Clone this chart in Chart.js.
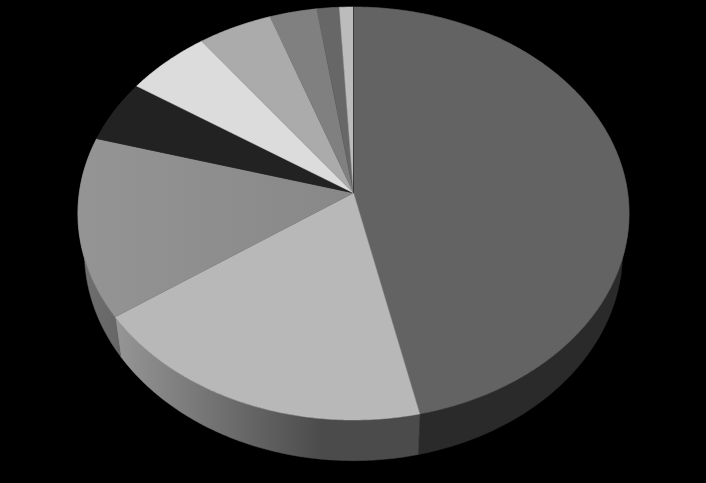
<!DOCTYPE html>
<html>
<head>
<meta charset="UTF-8">
<title>Pie</title>
<script src="https://cdn.jsdelivr.net/npm/chart.js"></script>
<style>
    html, body { margin: 0; background: #000; }
    canvas { display: block; }
</style>
</head>
<body>
<canvas id="pie" width="706" height="483"></canvas>
<script>
// values, clockwise from 12 o'clock (percent)
const categories = ['A', 'B', 'C', 'D', 'E', 'F', 'G', 'H', 'I'];
const values = [46.5, 18.8, 14.1, 4.9, 5.5, 4.8, 3.05, 1.45, 0.9];

const topColors = ['#636363', '#b8b8b8', '#8e8e8e', '#222222', '#dcdcdc', '#ababab', '#808080', '#676767', '#bcbcbc'];
// side wall gradient [left, right] for every slice
const sideColors = [['#2a2a2a', '#2a2a2a'], ['#969696', '#4b4b4b'], ['#707070', '#666666'], ['#222', '#222'],
    ['#444', '#444'], ['#444', '#444'], ['#444', '#444'], ['#444', '#444'], ['#444', '#444']];

// how the flat pie is laid on the table
const top3d = { dx: 0.5, dy: -28, sx: 1.141, sy: 0.855, apex: -0.0993 };
const bottom3d = { dx: 0.5, dy: 10.5, sx: 1.114, sy: 0.864 };

// the apex does not sit in the middle of the ellipse: perspective
function tilt(angle) {
    const u = Math.cos(angle), v = Math.sin(angle), d = top3d.apex;
    const w = 1 + d * v;
    return { X: u * Math.sqrt(1 - d * d) / w, Y: (v + d) / w };
}

function rim(arc, face) {
    const pts = [];
    const steps = Math.max(2, Math.ceil((arc.endAngle - arc.startAngle) / 0.01));
    for (let i = 0; i <= steps; i++) {
        const p = tilt(arc.startAngle + (arc.endAngle - arc.startAngle) * i / steps);
        pts.push([arc.x + face.dx + p.X * arc.outerRadius * face.sx, arc.y + face.dy + p.Y * arc.outerRadius * face.sy]);
    }
    return pts;
}

function fillPath(ctx, pts, fill) {
    ctx.beginPath();
    pts.forEach((p, i) => i ? ctx.lineTo(p[0], p[1]) : ctx.moveTo(p[0], p[1]));
    ctx.closePath();
    ctx.fillStyle = fill;
    ctx.strokeStyle = fill;
    ctx.lineWidth = 0.5;
    ctx.fill();
    ctx.stroke();
}

const pie3d = {
    id: 'pie3d',
    beforeDatasetsDraw(chart) {
        const ctx = chart.ctx;
        const arcs = chart.getDatasetMeta(0).data;
        // walls first, the lid covers whatever is at the back
        arcs.forEach((arc, i) => {
            const a = rim(arc, top3d), b = rim(arc, bottom3d);
            const xs = a.concat(b).map(p => p[0]);
            const g = ctx.createLinearGradient(Math.min(...xs), 0, Math.max(...xs), 0);
            g.addColorStop(0, sideColors[i][0]);
            if (i === 1) g.addColorStop(0.68, sideColors[i][1]);
            g.addColorStop(1, sideColors[i][1]);
            fillPath(ctx, a.concat(b.reverse()), g);
        });
        const apexOf = arc => [arc.x + top3d.dx, arc.y + top3d.dy + top3d.apex * arc.outerRadius * top3d.sy];
        arcs.forEach((arc, i) => {
            const pts = rim(arc, top3d);
            let fill = topColors[i];
            if (i === 2) { // this one fades a little towards the middle
                fill = ctx.createLinearGradient(80, 0, 350, 0);
                fill.addColorStop(0, '#949494');
                fill.addColorStop(1, '#888888');
            }
            fillPath(ctx, [apexOf(arc)].concat(pts), fill);
        });
        // thin dark seam where the first slice starts
        const first = arcs[0], start = apexOf(first), end = rim(first, top3d)[0];
        ctx.beginPath();
        ctx.moveTo(start[0], start[1]);
        ctx.lineTo(end[0], end[1]);
        ctx.strokeStyle = '#3a3a3a';
        ctx.lineWidth = 1;
        ctx.stroke();
        return false;
    }
};

new Chart(document.getElementById('pie'), {
    type: 'pie',
    data: {
        labels: categories,
        datasets: [{ data: values, backgroundColor: topColors, borderWidth: 0 }]
    },
    options: {
        responsive: false,
        animation: false,
        plugins: { legend: { display: false }, tooltip: { enabled: false } }
    },
    plugins: [pie3d]
});
</script>
</body>
</html>
